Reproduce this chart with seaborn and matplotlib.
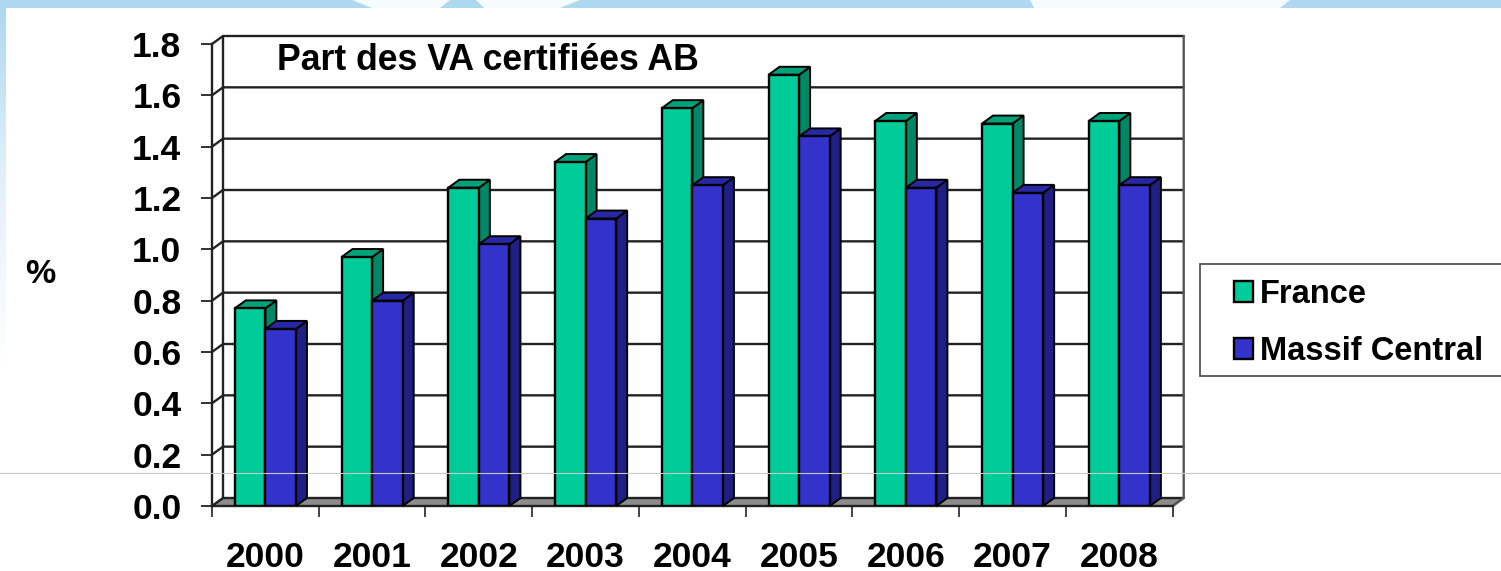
import numpy as np
import pandas as pd
import matplotlib.pyplot as plt
import seaborn as sns
from matplotlib.colors import LinearSegmentedColormap
from matplotlib.lines import Line2D
from matplotlib.patches import Polygon, Rectangle

W, H = 1501, 571

annees = ['2000', '2001', '2002', '2003', '2004', '2005', '2006', '2007', '2008']
france = [0.77, 0.97, 1.24, 1.34, 1.55, 1.68, 1.50, 1.49, 1.50]
massif = [0.69, 0.80, 1.02, 1.12, 1.25, 1.44, 1.24, 1.22, 1.25]
y_ticks = [0.0, 0.2, 0.4, 0.6, 0.8, 1.0, 1.2, 1.4, 1.6, 1.8]

df = pd.DataFrame({'annee': annees * 2,
                   'part': france + massif,
                   'zone': ['France'] * 9 + ['Massif Central'] * 9})

sns.set_style('white')
plt.rcParams['font.family'] = ['Liberation Sans', 'DejaVu Sans']
plt.rcParams['font.weight'] = 'bold'
plt.rcParams['text.color'] = 'black'
plt.rcParams['axes.labelcolor'] = 'black'
plt.rcParams['xtick.labelcolor'] = 'black'
plt.rcParams['ytick.labelcolor'] = 'black'

fig = plt.figure(figsize=(W / 100, H / 100), dpi=100)

# bande laterale de la diapo, degrade bleu -> blanc
band = '#ADD8F0'
strip = fig.add_axes([0, (H - 370) / H, 6 / W, 370 / H])
strip.imshow(np.linspace(0, 1, 64).reshape(-1, 1), aspect='auto',
             cmap=LinearSegmentedColormap.from_list('bande', [band, '#E4F1FA', 'white']))
strip.axis('off')

ax = fig.add_axes([212 / W, (H - 506) / H, 960.7 / W, 462 / H])
ax.patch.set_alpha(0)

sns.barplot(data=df, x='annee', y='part', hue='zone', ax=ax, order=annees,
            palette=['#00CC99', '#3333CC'], saturation=1, width=0.573, gap=0,
            edgecolor='black', linewidth=1.7, zorder=5)
ax.set_xlim(-0.5, 8.5)
ax.set_ylim(0, 1.8)

# fausse profondeur 3D : decalage en pixels converti en unites de donnees
dx = 11 / (960.7 / 9)
dy = 8 / (462 / 1.8)
line_c = '#222222'

# fond, sol et grille
ax.add_patch(Polygon([(-0.5, 0), (-0.5 + dx, dy), (8.5 + dx, dy), (8.5, 0)],
                     facecolor='#8C8C8C', edgecolor=line_c, linewidth=1.2,
                     clip_on=False, zorder=1))
for t in y_ticks:
    ax.plot([-0.5, -0.5 + dx, 8.5 + dx], [t, t + dy, t + dy], color=line_c,
            linewidth=1.7, clip_on=False, zorder=1.5)
ax.plot([-0.5 + dx, -0.5 + dx], [dy, 1.8 + dy], color=line_c, linewidth=1.7,
        clip_on=False, zorder=1.5)
ax.plot([8.5, 8.5 + dx, 8.5 + dx], [0, dy, 1.8 + dy], color='#555555',
        linewidth=1.7, clip_on=False, zorder=1.5)

# faces du dessus et de cote de chaque barre
shades = [('#00A27A', '#008866', 3), ('#2828A5', '#1F1F85', 4)]
for container, (top_c, side_c, z) in zip(ax.containers, shades):
    for bar in container:
        x0, x1, h = bar.get_x(), bar.get_x() + bar.get_width(), bar.get_height()
        ax.add_patch(Polygon([(x1, 0), (x1, h), (x1 + dx, h + dy), (x1 + dx, dy)],
                             facecolor=side_c, edgecolor='black', linewidth=1.4,
                             clip_on=False, zorder=z))
        ax.add_patch(Polygon([(x0, h), (x1, h), (x1 + dx, h + dy), (x0 + dx, h + dy)],
                             facecolor=top_c, edgecolor='black', linewidth=1.4,
                             clip_on=False, zorder=z))

# axes : graduations aux limites des categories, annees centrees
ax.set_xticks([i - 0.5 for i in range(10)])
ax.set_xticklabels([])
ax.set_xticks(range(9), annees, minor=True)
ax.tick_params(axis='x', which='major', length=8, width=1.3, color='#333333', bottom=True)
ax.tick_params(axis='x', which='minor', length=0, pad=25, labelsize=25.5)
ax.set_yticks(y_ticks, [f'{t:.1f}' for t in y_ticks])
ax.tick_params(axis='y', length=8, width=1.3, color='#222222', left=True, pad=14, labelsize=25.5)
for name in ['top', 'right']:
    ax.spines[name].set_visible(False)
for name in ['left', 'bottom']:
    ax.spines[name].set_color(line_c)
    ax.spines[name].set_linewidth(1.7)
ax.set_xlabel('')
ax.set_ylabel('%', rotation=0, fontsize=24.5, fontweight='bold')
ax.yaxis.set_label_coords((40 - 212) / 960.7, (506 - 290) / 462)

ax.text((277 - 212) / 960.7, (506 - 60) / 462, 'Part des VA certifiées AB',
        transform=ax.transAxes, fontsize=25.7, va='center', ha='left', zorder=6)

# cadre de legende : il sort de l'image a droite comme sur la diapo
ax.add_patch(Rectangle((1200 / W, (H - 376) / H), 400 / W, 112 / H,
                       transform=fig.transFigure, facecolor='white',
                       edgecolor='#555555', linewidth=1.3, clip_on=False, zorder=6))
handles, labels = ax.get_legend_handles_labels()
leg = ax.legend(handles, labels, loc='upper left', frameon=False,
                bbox_to_anchor=(1234 / W, (H - 279) / H), bbox_transform=fig.transFigure,
                fontsize=23.5, handlelength=0.58, handleheight=0.58, handletextpad=0.21,
                labelspacing=0.8, borderpad=0, borderaxespad=0)
leg.set_zorder(7)
leg.set_title(None)

# bandeau du haut avec ses trouees blanches, et filet gris
fig.add_artist(Rectangle((0, (H - 8) / H), 1, 8 / H, transform=fig.transFigure,
                         facecolor=band, edgecolor='none'))
trouees = [[(352, 0), (450, 0), (440, 8), (372, 8)],
           [(476, 0), (580, 0), (560, 8), (484, 8)],
           [(1030, 0), (1290, 0), (1280, 8), (1034, 8)]]
for pts in trouees:
    fig.add_artist(Polygon([(x / W, (H - y) / H) for x, y in pts], transform=fig.transFigure,
                           facecolor='#F6FBFE', edgecolor='none'))
fig.add_artist(Line2D([0, 1], [(H - 473) / H] * 2, transform=fig.transFigure,
                      color='#C8C8C8', linewidth=0.8, zorder=10))

fig.savefig('out.png', dpi=100)
